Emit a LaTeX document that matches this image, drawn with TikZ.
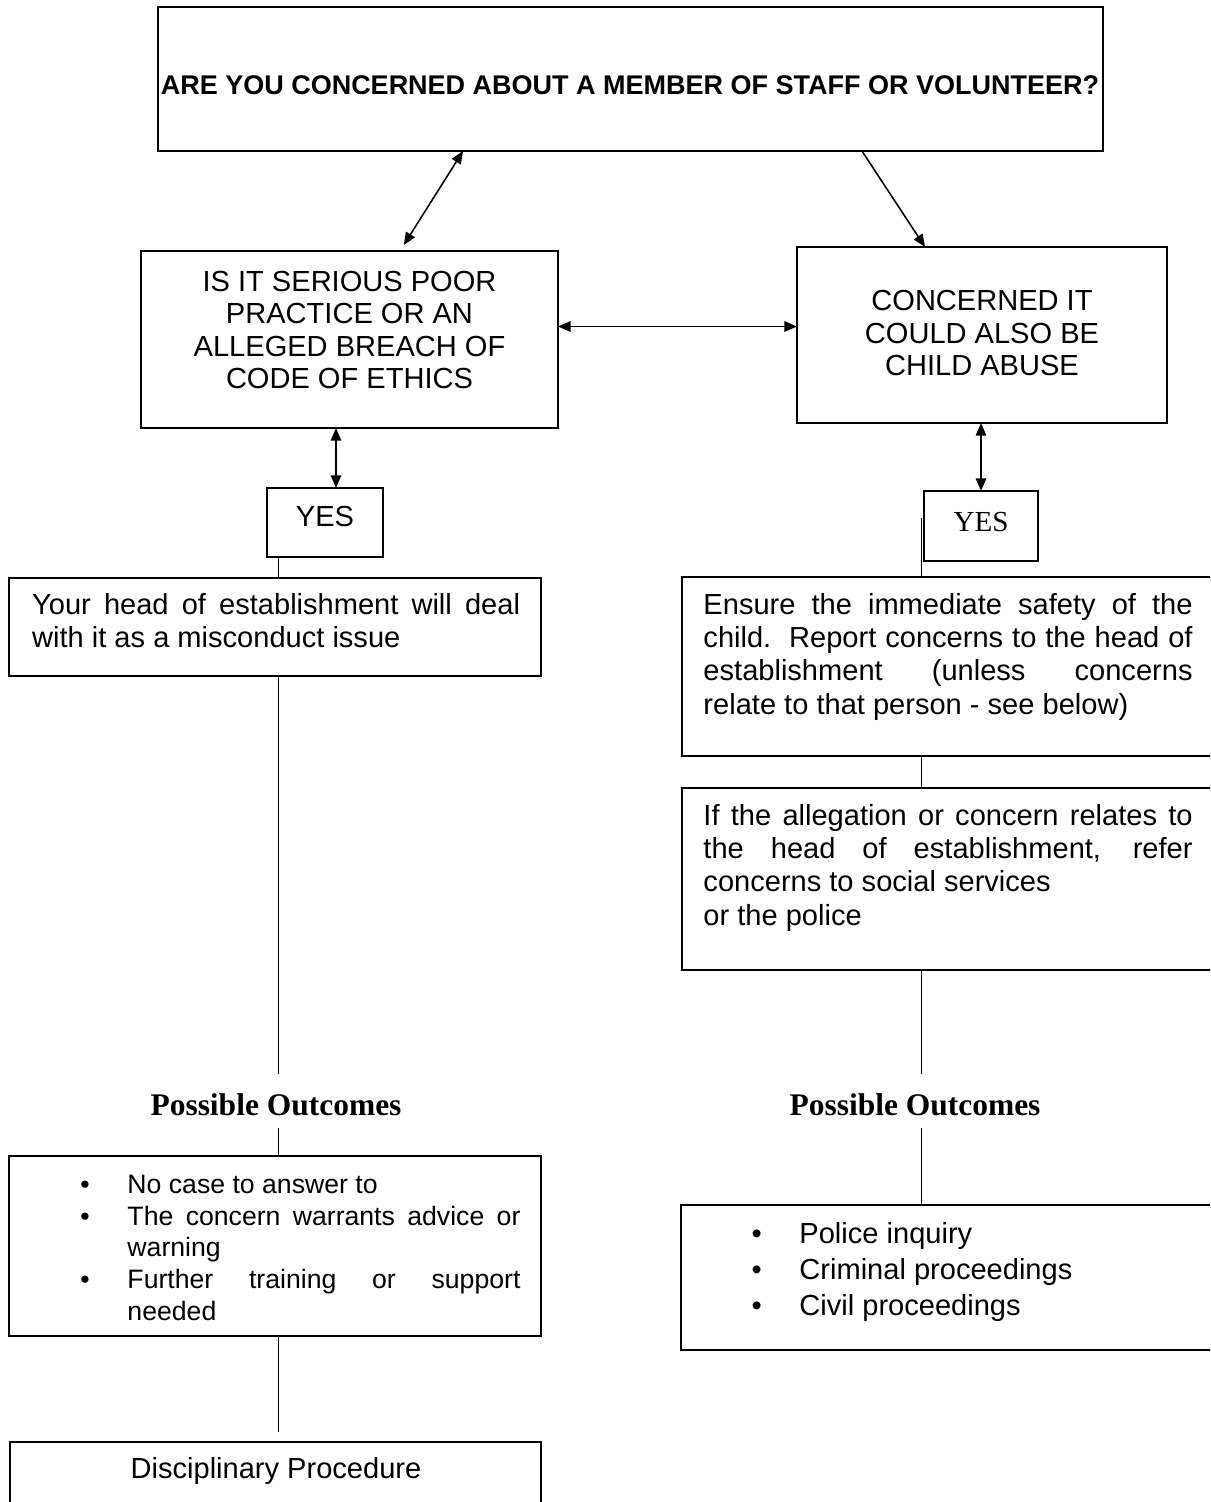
\documentclass[tikz,border=0pt]{standalone}
\usepackage{fontspec}
\setmainfont{Liberation Sans}
\newfontfamily\tnr{Liberation Serif}
\usetikzlibrary{arrows.meta,calc}
\newcommand\jl[2]{\hbox to #1{\spaceskip=0.278em plus 1fil\relax #2}}
\newcommand\bul{\llap{\textbullet\hspace{15.6pt}}}
\newcommand\st{\rule{0pt}{9.5pt}}
\begin{document}
\begin{tikzpicture}[x=0.413pt,y=-0.413pt,
  boxn/.style 2 args={draw, line width=0.8pt, inner sep=0pt, outer sep=0pt, anchor=north west, minimum width=#1, minimum height=#2},
  txt/.style={inner sep=0pt, font=\fontsize{12}{13.7}\selectfont},
  para/.style={txt, anchor=north west, align=left},
  ln/.style={line width=0.65pt},
  dbl/.style={ln, {Triangle[length=5.2pt,width=4.3pt]}-{Triangle[length=5.2pt,width=4.3pt]}},
  sgl/.style={ln, -{Triangle[length=5.2pt,width=4.3pt]}},
  pout/.style={inner sep=0pt, font=\tnr\bfseries\fontsize{13}{15}\selectfont}]
\useasboundingbox (0,0) rectangle (1210,1502);
\begin{scope}
\clip (0,0) rectangle (1210,1502);
\fill[white] (0,0) rectangle (1210,1502);
% boxes and texts
\node[boxn={390.3pt}{59.5pt}] (top) at (158,7) {};
\node[txt, font=\bfseries\fontsize{11.15}{13}\selectfont] (toptxt) at (630,85) {ARE YOU CONCERNED ABOUT A MEMBER OF STAFF OR VOLUNTEER?};
\node[boxn={172.2pt}{73.1pt}] (q1) at (141,251) {};
\node[txt, align=center, font=\fontsize{12}{13.3}\selectfont] (q1t) at (349.5,330) {IS IT SERIOUS POOR\\PRACTICE OR AN\\ALLEGED BREACH OF\\CODE OF ETHICS};
\node[boxn={152.8pt}{72.7pt}] (q2) at (797,247) {};
\node[txt, align=center, font=\fontsize{12}{13.3}\selectfont] (q2t) at (982,333) {CONCERNED IT\\COULD ALSO BE\\CHILD ABUSE};
\node[boxn={47.9pt}{28.5pt}] (yes1) at (267,488) {};
\node[txt] (yes1t) at (325,516) {YES};
\node[boxn={47.1pt}{28.9pt}] (yes2) at (924,491) {};
\node[txt, font=\tnr\fontsize{12}{13.8}\selectfont] (yes2t) at (981,522) {YES};
\node[boxn={219.7pt}{40.5pt}] (yh) at (9,578) {};
\node[para] (yht) at (31.7,591) {\st\jl{201.5pt}{Your head of establishment will deal}\\with it as a misconduct issue};
\node[boxn={219.7pt}{73.9pt}] (ens) at (682,577) {};
\node[para] (enst) at (703,591) {\st\jl{202pt}{Ensure the immediate safety of the}\\\jl{202pt}{child.\ \ Report concerns to the head of}\\\jl{202pt}{establishment (unless concerns}\\relate to that person - see below)};
\node[boxn={219.7pt}{75.2pt}] (alg) at (682,788) {};
\node[para] (algt) at (703,802) {\st\jl{202pt}{If the allegation or concern relates to}\\\jl{202pt}{the head of establishment, refer}\\concerns to social services\\or the police};
\node[pout] (po1) at (276,1105) {Possible Outcomes};
\node[pout] (po2) at (915,1105) {Possible Outcomes};
\node[boxn={219.7pt}{74.3pt}] (out1) at (9,1156) {};
\node[para, font=\fontsize{11}{13.1}\selectfont] (out1t) at (127,1170) {\st\bul No case to answer to\\\bul\jl{162.3pt}{The concern warrants advice or}\\warning\\\bul\jl{162.3pt}{Further training or support}\\needed};
\node[boxn={220.1pt}{59.9pt}] (out2) at (681,1205) {};
\node[para, font=\fontsize{12}{14.9}\selectfont] (out2t) at (799,1220) {\st\bul Police inquiry\\\bul Criminal proceedings\\\bul Civil proceedings};
\node[boxn={219.3pt}{37.2pt}] (disc) at (10,1442) {};
\node[txt, anchor=base] (disct) at (276,1478) {Disciplinary Procedure};
% helper coordinates
\coordinate (c1) at (463,0);
\coordinate (c2) at (400,0);
\coordinate (c3) at (862,0);
\coordinate (c4) at (925,0);
\coordinate (c5) at (0,326.5);
\coordinate (c6) at (336,0);
\coordinate (c7) at (981,0);
\coordinate (cl) at (278.5,0);
\coordinate (cr) at (921.7,518);
% connectors
\draw[dbl, shorten >=2.9pt] (top.south -| c1) -- (q1.north -| c2);
\draw[sgl] (top.south -| c3) -- (q2.north -| c4);
\draw[dbl] (q1.east |- c5) -- (q2.west |- c5);
\draw[dbl] (q1.south -| c6) -- (yes1.north -| c6);
\draw[dbl] (q2.south -| c7) -- (yes2.north -| c7);
\draw[ln] (yes1.south -| cl) -- (yh.north -| cl);
\draw[ln, shorten >=8pt] (yh.south -| cl) -- (po1.north -| cl);
\draw[ln, shorten <=4.7pt] (po1.south -| cl) -- (out1.north -| cl);
\draw[ln, shorten >=4.1pt] (out1.south -| cl) -- (disc.north -| cl);
\draw[ln] (cr) -- (ens.north -| cr);
\draw[ln] (ens.south -| cr) -- (alg.north -| cr);
\draw[ln, shorten >=8pt] (alg.south -| cr) -- (po2.north -| cr);
\draw[ln, shorten <=4.7pt] (po2.south -| cr) -- (out2.north -| cr);
\end{scope}
\end{tikzpicture}
\end{document}
